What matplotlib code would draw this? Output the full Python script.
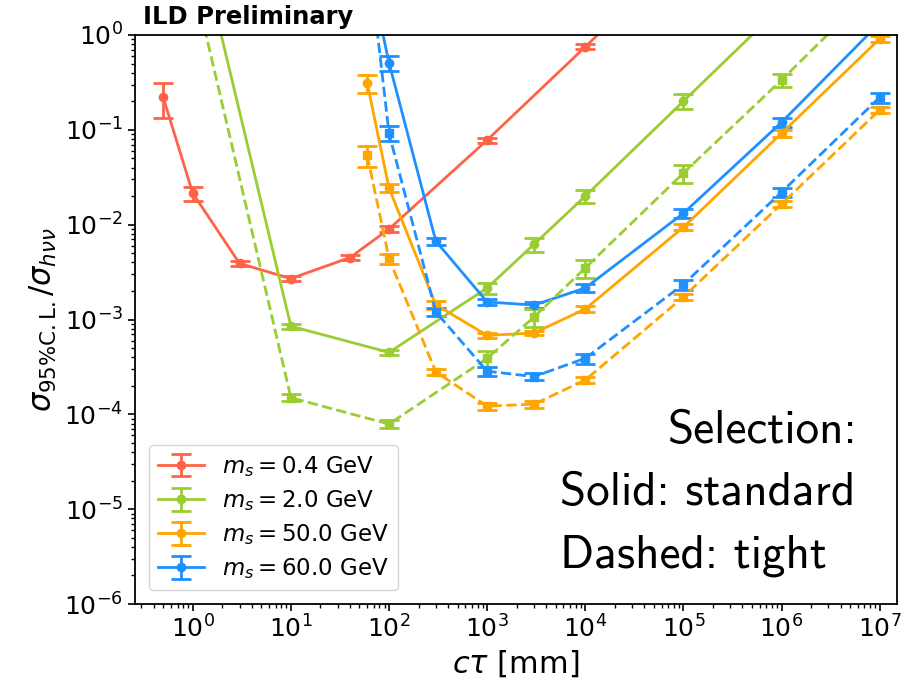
import matplotlib
matplotlib.use("Agg")
import matplotlib.pyplot as plt
from matplotlib.ticker import FixedLocator, LogLocator, NullFormatter
import numpy as np

# lifetimes (c*tau in mm)
ctau_04 = [0.5, 1, 3, 10, 40, 100, 1e3, 1e4, 1e5]
ctau_2 = [1, 10, 100, 1e3, 3e3, 1e4, 1e5, 1e6, 1e7]
ctau_heavy = [60, 100, 300, 1e3, 3e3, 1e4, 1e5, 1e6, 1e7]

# 95% C.L. limits on sigma / sigma_hvv, with relative uncertainties
lim_04_std = [0.22, 0.0215, 0.0039, 0.0027, 0.0045, 0.0090, 0.078, 0.75, 7.5]
err_04_std = [0.40, 0.17, 0.07, 0.06, 0.06, 0.07, 0.06, 0.06, 0.06]

lim_2_std = [18, 8.5e-4, 4.5e-4, 2.15e-3, 6.2e-3, 0.020, 0.20, 2.0, 20]
err_2_std = [0.2, 0.06, 0.06, 0.13, 0.16, 0.16, 0.18, 0.18, 0.18]
lim_2_tight = [4, 1.5e-4, 7.9e-5, 3.9e-4, 1.06e-3, 3.5e-3, 0.035, 0.335, 3.5]
err_2_tight = [0.2, 0.08, 0.10, 0.20, 0.22, 0.22, 0.22, 0.15, 0.15]

lim_50_std = [0.31, 0.0243, 1.43e-3, 6.8e-4, 7.2e-4, 1.29e-3, 9.4e-3, 0.092, 0.91]
err_50_std = [0.22, 0.10, 0.10, 0.05, 0.05, 0.07, 0.07, 0.08, 0.08]
lim_50_tight = [0.054, 4.4e-3, 2.8e-4, 1.22e-4, 1.28e-4, 2.3e-4, 1.73e-3, 0.0165, 0.162]
err_50_tight = [0.25, 0.12, 0.08, 0.08, 0.08, 0.08, 0.08, 0.08, 0.08]

lim_60_std = [6, 0.51, 6.7e-3, 1.53e-3, 1.42e-3, 2.15e-3, 0.0132, 0.12, 1.34]
err_60_std = [0.2, 0.18, 0.08, 0.08, 0.07, 0.10, 0.10, 0.10, 0.10]
lim_60_tight = [9, 0.092, 1.2e-3, 2.85e-4, 2.5e-4, 3.9e-4, 2.35e-3, 0.022, 0.22]
err_60_tight = [0.2, 0.18, 0.10, 0.10, 0.08, 0.12, 0.12, 0.12, 0.12]

labels = [r"$m_s = 0.4$ GeV", r"$m_s = 2.0$ GeV", r"$m_s = 50.0$ GeV", r"$m_s = 60.0$ GeV"]
colors = ["tomato", "yellowgreen", "orange", "dodgerblue"]
x_decades = [1e0, 1e1, 1e2, 1e3, 1e4, 1e5, 1e6, 1e7]
y_decades = [1e-6, 1e-5, 1e-4, 1e-3, 1e-2, 1e-1, 1e0]

fig = plt.figure(figsize=(9.11, 6.86), dpi=100)
ax = fig.add_axes([0.148, 0.1195, 0.837, 0.8295])

def draw(x, y, rel, color, ls, marker, label=None):
    y = np.asarray(y)
    e = np.asarray(rel) * y
    ax.errorbar(x, y, yerr=e, color=color, ls=ls, marker=marker, ms=6,
                lw=2, capsize=7, elinewidth=2, capthick=2, label=label)

draw(ctau_04, lim_04_std, err_04_std, colors[0], "-", "o", labels[0])
draw(ctau_2, lim_2_std, err_2_std, colors[1], "-", "o", labels[1])
draw(ctau_heavy, lim_50_std, err_50_std, colors[2], "-", "o", labels[2])
draw(ctau_heavy, lim_60_std, err_60_std, colors[3], "-", "o", labels[3])
draw(ctau_2, lim_2_tight, err_2_tight, colors[1], "--", "s")
draw(ctau_heavy, lim_50_tight, err_50_tight, colors[2], "--", "s")
draw(ctau_heavy, lim_60_tight, err_60_tight, colors[3], "--", "s")

ax.set_xscale("log")
ax.set_yscale("log")
ax.set_xlim(10 ** -0.59, 10 ** 7.18)
ax.set_ylim(1e-6, 1)
ax.xaxis.set_major_locator(FixedLocator(x_decades))
ax.yaxis.set_major_locator(FixedLocator(y_decades))
ax.xaxis.set_minor_locator(LogLocator(base=10, subs=np.arange(2, 10), numticks=20))
ax.yaxis.set_minor_locator(LogLocator(base=10, subs=np.arange(2, 10), numticks=20))
ax.xaxis.set_minor_formatter(NullFormatter())
ax.yaxis.set_minor_formatter(NullFormatter())
ax.tick_params(axis="both", which="major", labelsize=18, length=5, width=1.2)
ax.tick_params(axis="both", which="minor", length=3, width=1)
for s in ax.spines.values():
    s.set_linewidth(1.3)

ax.set_xlabel(r"$c\tau$ [mm]", fontsize=22)
ax.set_ylabel(r"$\sigma_{95\%\mathrm{C.L.}}/\sigma_{h\nu\nu}$", fontsize=22)
fig.text(143 / 911, 1 - 24 / 686, "ILD Preliminary", fontsize=17.5,
         fontweight="bold", ha="left", va="baseline")

ax.legend(loc="lower left", fontsize=16.5, labelspacing=0.4, borderaxespad=0.6)

ax.text(0.9475, 0.283, "Selection:", transform=ax.transAxes, fontsize=34,
        family="cmss10", ha="right", va="baseline")
ax.text(0.558, 0.174, "Solid: standard", transform=ax.transAxes, fontsize=34,
        family="cmss10", ha="left", va="baseline")
ax.text(0.558, 0.065, "Dashed: tight", transform=ax.transAxes, fontsize=34,
        family="cmss10", ha="left", va="baseline")

fig.savefig("out.png", dpi=100)
